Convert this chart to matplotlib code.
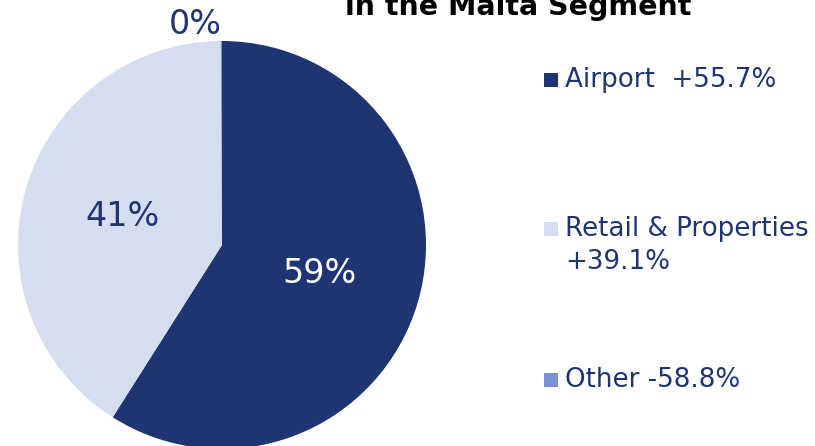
import numpy as np
import matplotlib
matplotlib.use("Agg")
import matplotlib.pyplot as plt
from matplotlib.patches import Rectangle

# ---- data ----
categories = ["Airport", "Retail & Properties", "Other"]
shares = [59.0, 40.9, 0.1]
pct_labels = ["59%", "41%", "0%"]
legend_labels = ["Airport  +55.7%", "Retail & Properties\n+39.1%", "Other -58.8%"]
title_text = "in the Malta Segment"

colors = ["#1E3473", "#D5DEEF", "#7A91D4"]
label_colors = ["white", "#1E3473", "#1E3473"]
text_color = "#1E3473"

W, H = 815, 446
fig = plt.figure(figsize=(W / 100, H / 100), dpi=100)
plt.rcParams['font.family'] = ['DejaVu Sans']

# pie axes: center (222,245) radius 204 px
cx, cy, r = 222, 245, 204
ax = fig.add_axes([(cx - r) / W, (H - cy - r) / H, 2 * r / W, 2 * r / H])
wedges, _ = ax.pie(shares, colors=colors, startangle=90, counterclock=False,
                   radius=1.0, wedgeprops=dict(linewidth=0))
ax.set_xlim(-1, 1)
ax.set_ylim(-1, 1)
ax.set_aspect('auto')
ax.axis('off')

# percentage labels
dist = [0.50, 0.505, 1.09]
ang_override = [None, None, 97.0]  # degrees (counterclockwise from +x)
for i, w in enumerate(wedges):
    ang = (w.theta1 + w.theta2) / 2 if ang_override[i] is None else ang_override[i]
    a = np.deg2rad(ang)
    ax.text(dist[i] * np.cos(a), dist[i] * np.sin(a), pct_labels[i],
            ha='center', va='center', fontsize=24, color=label_colors[i],
            clip_on=False)

# title (clipped at the top, as in the source)
fig.text(518 / W, 1 - 15 / H, title_text, ha='center', va='baseline',
         fontsize=20.5, fontweight='bold', color='black')

# legend
leg_rows_y = [80, 229, 380]
sq = 14
for i, lab in enumerate(legend_labels):
    y = leg_rows_y[i]
    fig.patches.append(Rectangle((544 / W, (H - y - sq / 2) / H), sq / W, sq / H,
                                 transform=fig.transFigure, facecolor=colors[i],
                                 edgecolor='none'))
    fig.text(565 / W, (H - y) / H, lab.split("\n")[0], ha='left', va='center',
             fontsize=18.8, color=text_color)
    if "\n" in lab:
        fig.text(565 / W, (H - y - 33) / H, lab.split("\n")[1], ha='left',
                 va='center', fontsize=18.8, color=text_color)

fig.savefig("out.png", dpi=100)
